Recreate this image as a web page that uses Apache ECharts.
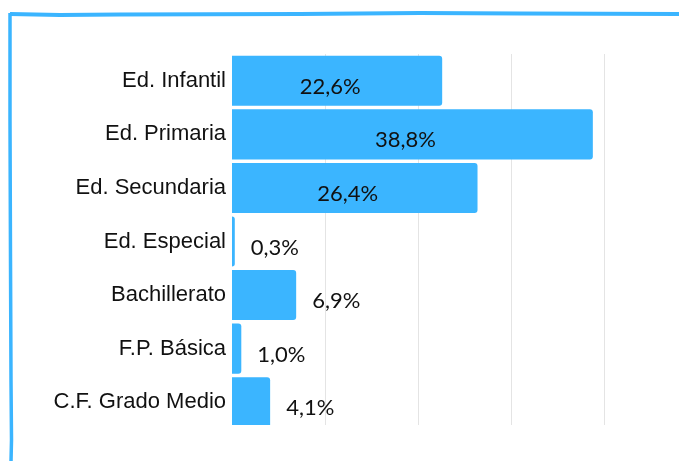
<!DOCTYPE html>
<html>
<head>
<meta charset="utf-8">
<script src="https://cdn.jsdelivr.net/npm/echarts@6/dist/echarts.min.js"></script>
<style>
  html, body { margin: 0; padding: 0; background: #fff; }
  #chart { width: 679px; height: 461px; }
</style>
</head>
<body>
<div id="chart"></div>
<script>
// niveles educativos y porcentaje
const niveles = [
  "Ed. Infantil",
  "Ed. Primaria",
  "Ed. Secundaria",
  "Ed. Especial",
  "Bachillerato",
  "F.P. Básica",
  "C.F. Grado Medio"
];
const porcentajes = [22.6, 38.8, 26.4, 0.3, 6.9, 1.0, 4.1];
const ejeMax = 40;
const ejePaso = 10;

const azul = "#3bb5ff";

function etiqueta(v) {
  return v.toFixed(1).replace(".", ",") + "%";
}

const chart = echarts.init(document.getElementById("chart"));

chart.setOption({
  animation: false,
  grid: { left: 232, right: 75, top: 54, bottom: 32 },
  xAxis: {
    type: "value",
    min: 0,
    max: ejeMax,
    interval: ejePaso,
    axisLabel: { show: false },
    axisLine: { show: false },
    axisTick: { show: false },
    splitLine: {
      show: true,
      showMinLine: false,
      lineStyle: { color: "#e4e4e4", width: 1 }
    }
  },
  yAxis: {
    type: "category",
    inverse: true,
    data: niveles,
    axisLine: { show: false },
    axisTick: { show: false },
    axisLabel: {
      margin: 6,
      color: "#111",
      fontFamily: "Liberation Sans",
      fontSize: 22
    }
  },
  series: [
    {
      type: "bar",
      barCategoryGap: "6.5%",
      data: porcentajes.map(function (v) {
        // las barras grandes llevan el texto dentro
        const dentro = v > 10;
        return {
          value: v,
          label: dentro
            ? { position: "inside", offset: [-7, 6] }
            : { position: "right", distance: 16, offset: [0, 6] }
        };
      }),
      itemStyle: { color: azul, borderRadius: [0, 3, 3, 0] },
      label: {
        show: true,
        formatter: function (p) { return etiqueta(p.value); },
        color: "#111",
        fontFamily: "Lato",
        fontWeight: "normal",
        fontSize: 22
      }
    }
  ],
  graphic: [
    // corte inferior del area de grafico
    {
      type: "rect",
      z: 100,
      shape: { x: 226, y: 425, width: 400, height: 8 },
      style: { fill: "#fff" }
    },
    // marco dibujado a mano
    {
      type: "polyline",
      z: 101,
      shape: {
        points: [[680, 14], [520, 13.5], [420, 13], [300, 14], [120, 14.5], [60, 15], [10, 14]]
      },
      style: { stroke: azul, lineWidth: 4, fill: null }
    },
    {
      type: "polyline",
      z: 101,
      shape: {
        points: [[10, 13], [10, 120], [10.5, 260], [11, 380], [11.5, 440], [11, 462]]
      },
      style: { stroke: azul, lineWidth: 3.5, fill: null }
    }
  ]
});
</script>
</body>
</html>
